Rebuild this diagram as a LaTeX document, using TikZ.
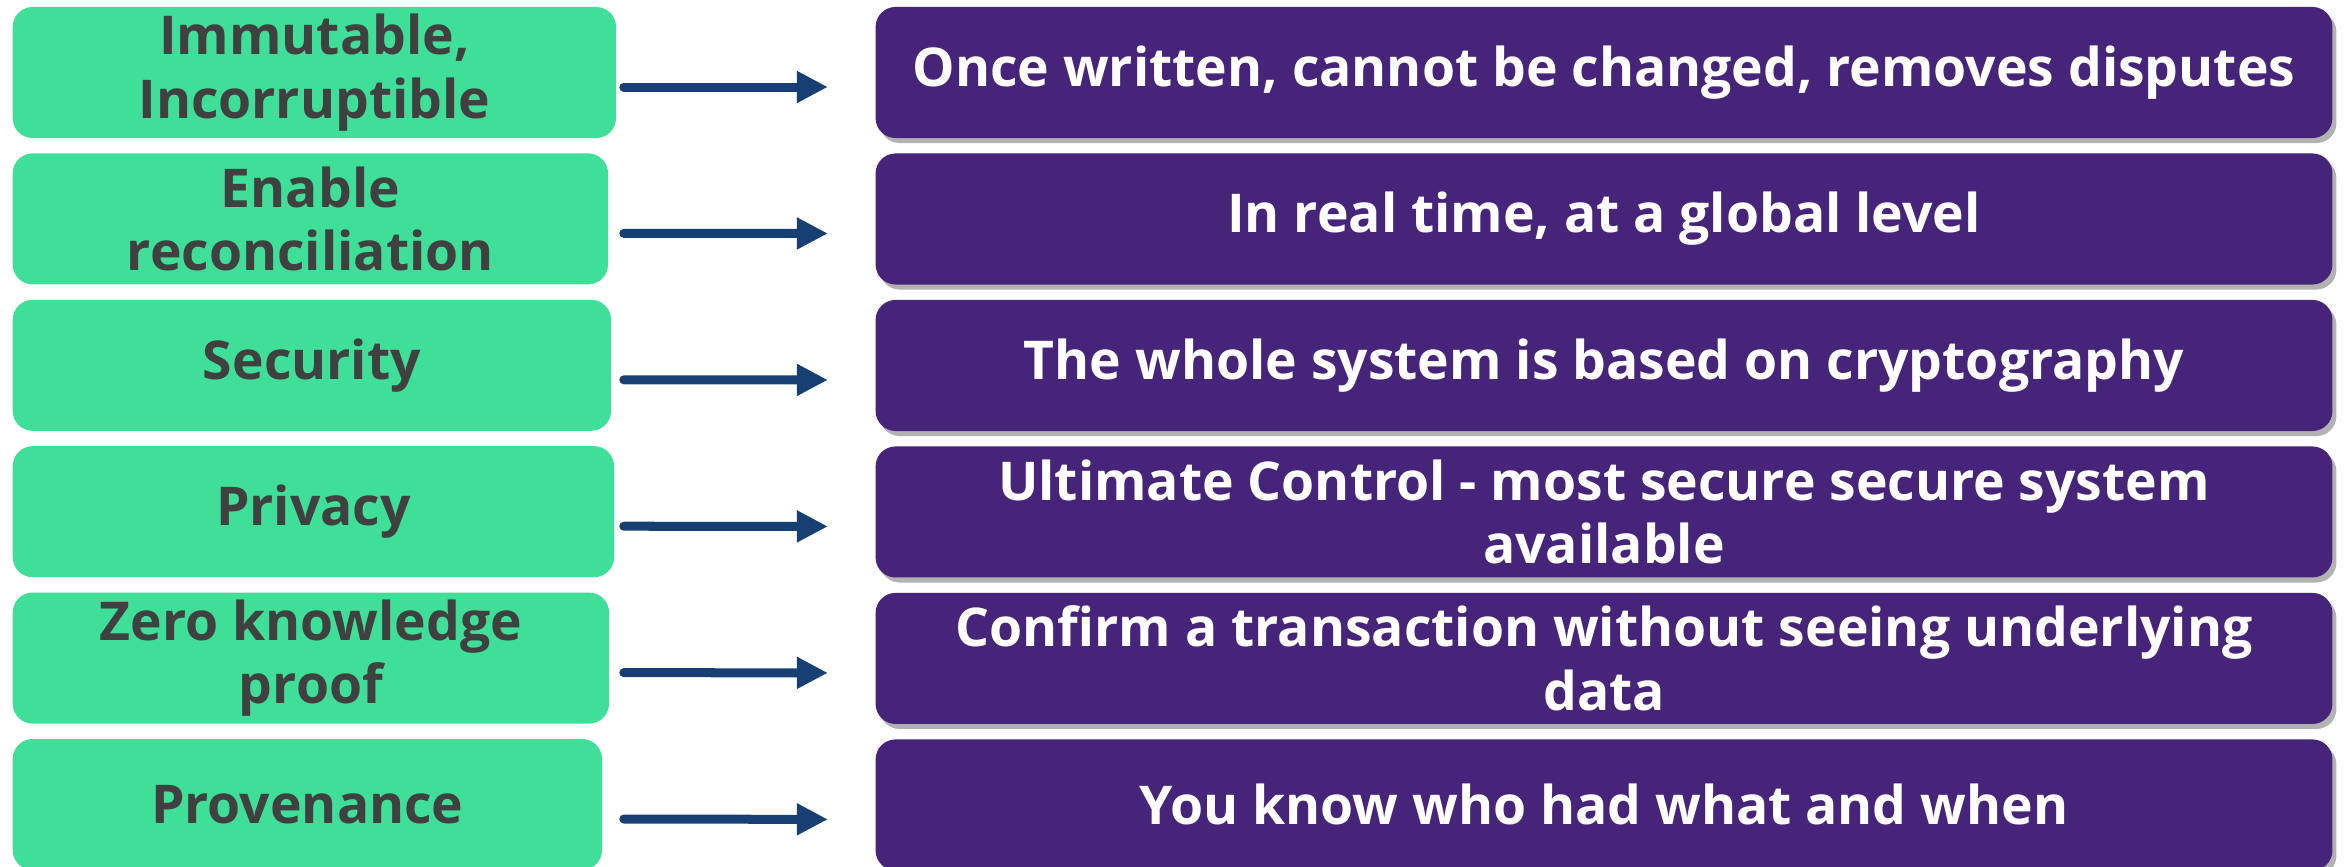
\documentclass[tikz,border=0pt]{standalone}
\usepackage{fontspec}
\setmainfont{Open Sans}
\usepackage{xcolor}
\usepackage{tikz}
\usetikzlibrary{arrows.meta,positioning,shadows}

\definecolor{mint}{HTML}{3FDE99}
\definecolor{grape}{HTML}{46247A}
\definecolor{navy}{HTML}{173F73}
\definecolor{ink}{HTML}{404040}

\begin{document}
\begin{tikzpicture}[x=0.01cm,y=-0.01cm,node distance=1.464cm,
  feature/.style={fill=mint, rounded corners=0.2cm, minimum height=1.31cm,
    inner sep=0pt, anchor=west, align=center, text=ink,
    font=\fontsize{15.2}{18}\selectfont\bfseries},
  detail/.style={fill=grape, rounded corners=0.2cm, minimum width=14.56cm,
    minimum height=1.31cm, inner sep=0pt, align=center, text=white,
    font=\fontsize{15.2}{18}\selectfont\bfseries,
    drop shadow={shadow xshift=0.04cm, shadow yshift=-0.05cm, fill=black, opacity=0.3}},
  link/.style={-{Triangle[length=0.31cm,width=0.3cm]}, line width=0.09cm,
    navy, line cap=round, shorten >=0.47cm}]

\useasboundingbox (0,0) rectangle (2349,867);

\node[feature, minimum width=6.03cm] (L_1) at (12,72.5)  {Immutable,\\Incorruptible};
\node[feature, minimum width=5.95cm] (L_2) at (12,218.9) {Enable\\reconciliation};
\node[feature, minimum width=5.98cm] (L_3) at (12,365.3) {Security};
\node[feature, minimum width=6.01cm] (L_4) at (12,511.7) {Privacy};
\node[feature, minimum width=5.96cm] (L_5) at (12,658.1) {Zero knowledge\\proof};
\node[feature, minimum width=5.89cm] (L_6) at (12,804.5) {Provenance};

\node[detail] (R_1) at (1604,72.5) {Once written, cannot be changed, removes disputes};
\node[detail] (R_2) [below of=R_1] {In real time, at a global level};
\node[detail] (R_3) [below of=R_2] {The whole system is based on cryptography};
\node[detail] (R_4) [below of=R_3] {Ultimate Control - most secure secure system\\available};
\node[detail] (R_5) [below of=R_4] {Confirm a transaction without seeing underlying\\data};
\node[detail] (R_6) [below of=R_5] {You know who had what and when};

\draw[link, shorten <=0.07cm] ([yshift=-0.145cm]L_1.east) -- ([yshift=-0.145cm]R_1.west);
\draw[link, shorten <=0.15cm] ([yshift=-0.145cm]L_2.east) -- ([yshift=-0.145cm]R_2.west);
\draw[link, shorten <=0.12cm] ([yshift=-0.145cm]L_3.east) -- ([yshift=-0.145cm]R_3.west);
\draw[link, shorten <=0.09cm] ([yshift=-0.145cm]L_4.east) -- ([yshift=-0.145cm]R_4.west);
\draw[link, shorten <=0.14cm] ([yshift=-0.145cm]L_5.east) -- ([yshift=-0.145cm]R_5.west);
\draw[link, shorten <=0.21cm] ([yshift=-0.145cm]L_6.east) -- ([yshift=-0.145cm]R_6.west);
\end{tikzpicture}
\end{document}
